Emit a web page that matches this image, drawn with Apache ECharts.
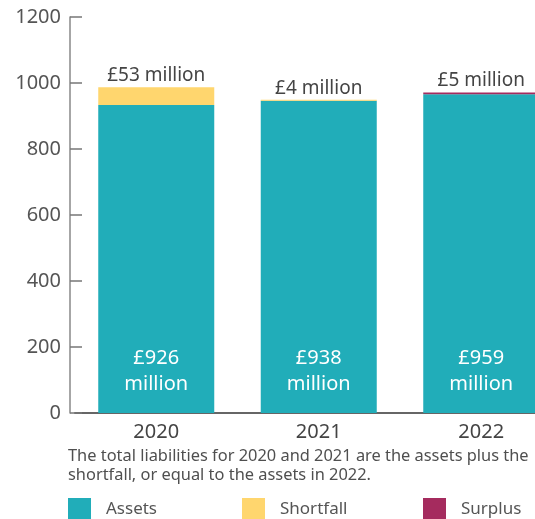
<!DOCTYPE html>
<html><head><meta charset="utf-8">
<script src="https://cdn.jsdelivr.net/npm/echarts@6/dist/echarts.min.js"></script>
<style>html,body{margin:0;padding:0;background:#fff}#c{width:535px;height:519px}</style>
</head><body><div id="c"></div>
<script>
var years = ['2020', '2021', '2022'];
var assets = [933, 946, 966];
var shortfall = [54, 3, 0];
var surplus = [0, 0, 5];
var assetLabels = ['£926\nmillion', '£938\nmillion', '£959\nmillion'];
var shortfallLabels = ['£53 million', '£4 million', ''];
var surplusLabels = ['', '', '£5 million'];
var yTicks = [0, 200, 400, 600, 800, 1000, 1200];
var note = 'The total liabilities for 2020 and 2021 are the assets plus the\nshortfall, or equal to the assets in 2022.';

var FONT = 'Noto Sans';
var chart = echarts.init(document.getElementById('c'), null, {renderer: 'canvas'});
var topLabel = {show: true, position: 'top', distance: 2, color: '#444', fontSize: 19, fontFamily: FONT};
var legendText = {fontSize: 17, color: '#555', padding: [0, 0, 0, 10], fontFamily: FONT};
chart.setOption({
  animation: false,
  textStyle: {fontFamily: FONT},
  title: {
    text: note, left: 68, top: 447, padding: 0,
    textStyle: {fontSize: 16.4, fontWeight: 'normal', color: '#4f4f4f', lineHeight: 19, fontFamily: FONT}
  },
  legend: [
    {data: ['Assets'], left: 68, top: 498, padding: 0, itemWidth: 23, itemHeight: 23, icon: 'rect', textStyle: legendText},
    {data: ['Shortfall'], left: 242, top: 498, padding: 0, itemWidth: 23, itemHeight: 23, icon: 'rect', textStyle: legendText},
    {data: ['Surplus'], left: 423, top: 498, padding: 0, itemWidth: 23, itemHeight: 23, icon: 'rect', textStyle: legendText}
  ],
  grid: {left: 75, width: 487.5, top: 17, bottom: 106, containLabel: false, outerBoundsMode: 'none'},
  xAxis: {
    type: 'category', data: years,
    axisLine: {show: true, lineStyle: {color: '#666', width: 2}},
    axisTick: {show: false},
    axisLabel: {fontSize: 20, color: '#444', margin: 9, fontFamily: FONT}
  },
  yAxis: {
    type: 'value', min: 0, max: 1200, interval: 200, offset: 5,
    axisLine: {show: true, lineStyle: {color: '#888', width: 1.5}},
    axisTick: {show: true, inside: true, length: 12, lineStyle: {color: '#777', width: 1.5}},
    splitLine: {show: false},
    axisLabel: {fontSize: 20, color: '#555', margin: 9, fontFamily: FONT,
      formatter: function (v) { return yTicks.indexOf(v) >= 0 ? String(v) : ''; }}
  },
  series: [
    {name: 'Assets', type: 'bar', stack: 'a', barWidth: 116, itemStyle: {color: '#21ADB9'},
     data: assets,
     label: {show: true, position: 'insideBottom', distance: 16, color: '#fff', fontSize: 20, lineHeight: 26, fontFamily: FONT,
       formatter: function (p) { return assetLabels[p.dataIndex]; }}},
    {name: 'Shortfall', type: 'bar', stack: 'a', itemStyle: {color: '#FFD66E'},
     data: shortfall,
     label: Object.assign({}, topLabel, {formatter: function (p) { return shortfallLabels[p.dataIndex]; }})},
    {name: 'Surplus', type: 'bar', stack: 'a', itemStyle: {color: '#A52B5E'},
     data: surplus,
     label: Object.assign({}, topLabel, {formatter: function (p) { return surplusLabels[p.dataIndex]; }})}
  ]
});
</script></body></html>
